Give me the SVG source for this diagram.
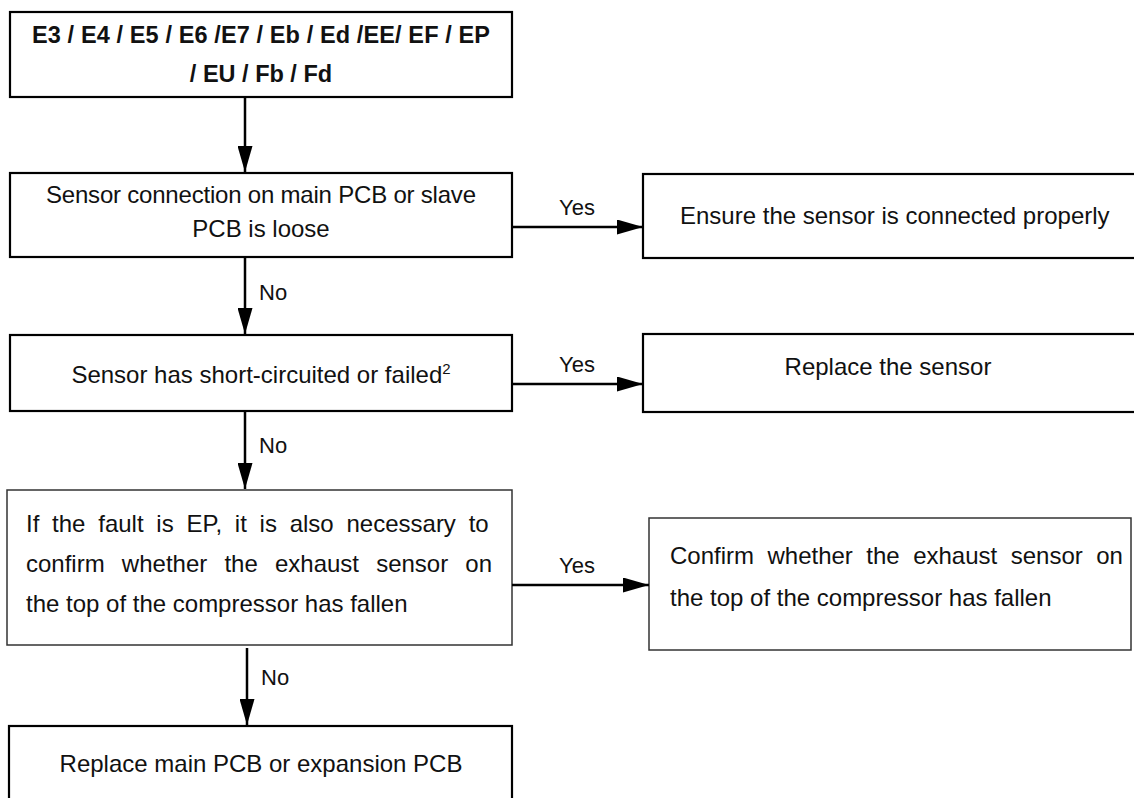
<svg xmlns="http://www.w3.org/2000/svg" width="1134" height="798" viewBox="0 0 1134 798">
  <style>
    .box { fill: #ffffff; stroke: #000000; stroke-width: 2.2; }
    .thin { fill: #ffffff; stroke: #333333; stroke-width: 1.5; }
    .t { font-family: "Liberation Sans", Arial, sans-serif; font-size: 24px; fill: #111111; }
    .b { font-family: "Liberation Sans", Arial, sans-serif; font-size: 23.5px; font-weight: bold; fill: #111111; }
    .mid { text-anchor: middle; }
    .lbl { font-family: "Liberation Sans", Arial, sans-serif; font-size: 22px; fill: #111111; }
    .conn { stroke: #000000; stroke-width: 2.5; fill: none; marker-end: url(#arrow); }
  </style>
  <defs>
    <marker id="arrow" viewBox="0 0 26 15" refX="26" refY="7.5" markerWidth="26" markerHeight="15" markerUnits="userSpaceOnUse" orient="auto">
      <path d="M0,0 L26,7.5 L0,15 Z" fill="#000000"/>
    </marker>
  </defs>
  <rect width="1134" height="798" fill="#ffffff"/>

  <g id="node-codes">
    <rect class="box" x="10" y="12" width="502" height="85"/>
    <text class="b mid" x="261" y="43" textLength="458">E3 / E4 / E5 / E6 /E7 / Eb / Ed /EE/ EF / EP</text>
    <text class="b mid" x="261" y="82">/ EU / Fb / Fd</text>
  </g>

  <g id="node-loose">
    <rect class="box" x="10" y="173" width="502" height="84"/>
    <text class="t mid" x="261" y="203" textLength="430">Sensor connection on main PCB or slave</text>
    <text class="t mid" x="261" y="237">PCB is loose</text>
  </g>

  <g id="node-ensure">
    <rect class="box" x="643" y="174" width="500" height="84"/>
    <text class="t" x="680" y="224">Ensure the sensor is connected properly</text>
  </g>

  <g id="node-short">
    <rect class="box" x="10" y="335" width="502" height="76"/>
    <text class="t mid" x="261" y="383">Sensor has short-circuited or failed<tspan font-size="15" dy="-9">2</tspan></text>
  </g>

  <g id="node-replace-sensor">
    <rect class="box" x="643" y="334" width="500" height="78"/>
    <text class="t mid" x="888" y="375">Replace the sensor</text>
  </g>

  <g id="node-ep">
    <rect class="thin" x="7" y="490" width="505" height="155"/>
    <text class="t" x="26" y="532" word-spacing="6.1">If the fault is EP, it is also necessary to</text>
    <text class="t" x="26" y="572" word-spacing="10.5">confirm whether the exhaust sensor on</text>
    <text class="t" x="26" y="612">the top of the compressor has fallen</text>
  </g>

  <g id="node-confirm">
    <rect class="thin" x="649" y="518" width="482" height="132"/>
    <text class="t" x="670" y="564" word-spacing="6.8">Confirm whether the exhaust sensor on</text>
    <text class="t" x="670" y="606">the top of the compressor has fallen</text>
  </g>

  <g id="node-replace-pcb">
    <rect class="box" x="9" y="726" width="503" height="90"/>
    <text class="t mid" x="261" y="772">Replace main PCB or expansion PCB</text>
  </g>

  <g id="connectors">
    <line class="conn" x1="245" y1="97" x2="245" y2="172"/>
    <line class="conn" x1="512" y1="227" x2="643" y2="227"/>
    <line class="conn" x1="245" y1="257" x2="245" y2="334"/>
    <line class="conn" x1="512" y1="384" x2="643" y2="384"/>
    <line class="conn" x1="245" y1="411" x2="245" y2="489"/>
    <line class="conn" x1="512" y1="585" x2="649" y2="585"/>
    <line class="conn" x1="247" y1="648" x2="247" y2="725"/>
    <text class="lbl mid" x="577" y="215">Yes</text>
    <text class="lbl" x="259" y="300">No</text>
    <text class="lbl mid" x="577" y="372">Yes</text>
    <text class="lbl" x="259" y="453">No</text>
    <text class="lbl mid" x="577" y="573">Yes</text>
    <text class="lbl" x="261" y="685">No</text>
  </g>
</svg>
